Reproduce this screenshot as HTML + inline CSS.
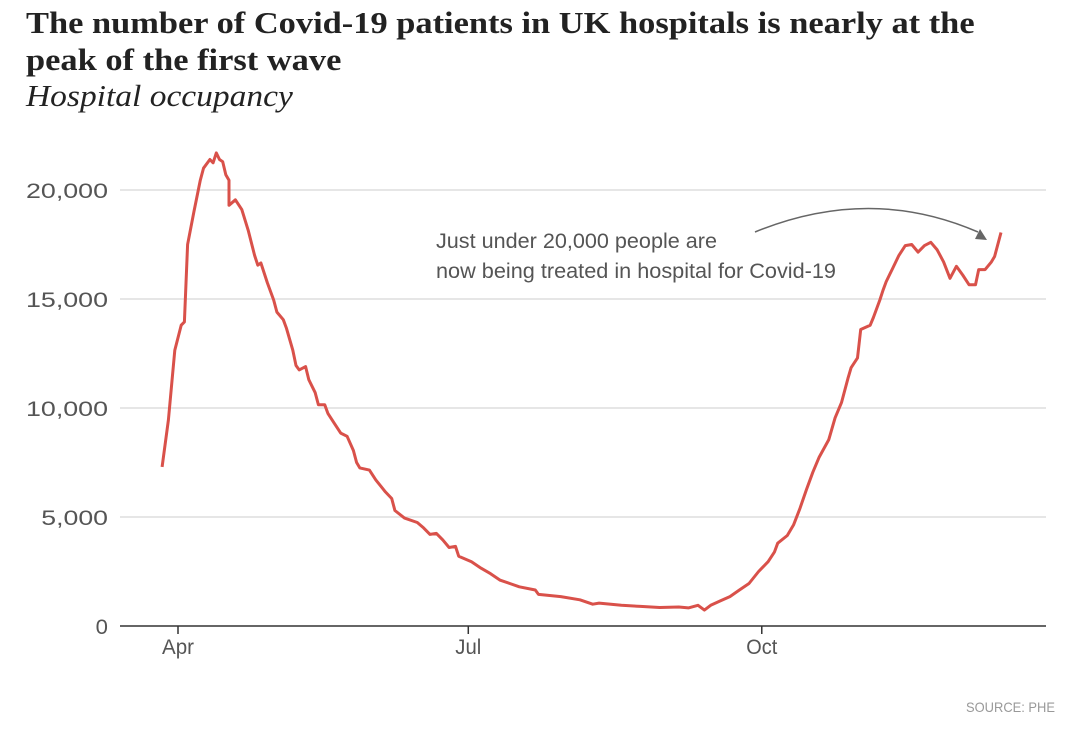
<!DOCTYPE html>
<html><head><meta charset="utf-8">
<style>
body{margin:0;background:#fff;width:1080px;height:739px;overflow:hidden;}
.t{position:absolute;left:26px;top:4px;font-family:"Liberation Serif",serif;font-weight:bold;font-size:31px;line-height:37px;color:#222;white-space:nowrap;transform:scaleX(1.11);transform-origin:0 0;}
.s{position:absolute;left:26px;top:78px;font-family:"Liberation Serif",serif;font-style:italic;font-size:31px;color:#222;white-space:nowrap;transform:scaleX(1.08);transform-origin:0 0;}
</style></head><body>
<div class="t">The number of Covid-19 patients in UK hospitals is nearly at the<br>peak of the first wave</div>
<div class="s">Hospital occupancy</div>
<svg id="c" width="1080" height="739" style="position:absolute;left:0;top:0"></svg>
<script>
const days=[-5,-3,-1,1,2,3,5,7,8,10,11,12,13,14,15,16,16,18,20,22,24,25,26,28,30,31,33,34,36,37,38,40,41,43,44,46,47,49,51,53,55,56,57,60,62,65,67,68,71,75,77,79,81,83,85,87,88,92,95,98,101,104,107,112,113,120,126,130,132,139,145,151,157,160,163,165,167,170,173,176,179,182,185,187,188,191,193,195,197,199,201,204,206,208,210,211,213,214,217,218,220,221,222,224,226,228,230,232,234,236,238,240,242,244,246,248,250,251,253,255,256,258];
const values=[7300,9450,12650,13800,13950,17500,19000,20450,21000,21400,21250,21700,21400,21300,20700,20450,19300,19550,19100,18150,17000,16550,16650,15750,14950,14400,14050,13650,12650,11950,11750,11900,11300,10700,10150,10150,9750,9300,8850,8700,8050,7500,7250,7150,6700,6150,5850,5300,4950,4750,4500,4200,4250,3950,3600,3650,3200,2950,2650,2400,2100,1950,1800,1650,1450,1350,1200,1000,1050,950,900,850,870,830,950,730,950,1150,1350,1650,1950,2500,2950,3400,3800,4150,4650,5400,6250,7050,7750,8550,9550,10250,11350,11850,12300,13600,13800,14150,14950,15400,15800,16400,17000,17450,17500,17150,17450,17600,17250,16700,15950,16500,16100,15650,15650,16350,16350,16700,16950,18050];
const yTicks=[0,5000,10000,15000,20000];
const yLabels=["0","5,000","10,000","15,000","20,000"];
const xTickDays=[0,91,183];
const xLabels=["Apr","Jul","Oct"];
const xLabelW=[32,26,31];
const NS="http://www.w3.org/2000/svg";
const svg=document.getElementById('c');
const X=d=>178+d*3.19;
const Y=v=>626-v*0.0218;
const F='Liberation Sans, sans-serif';
function mk(t,a){const e=document.createElementNS(NS,t);for(const k in a)e.setAttribute(k,a[k]);svg.appendChild(e);return e;}
yTicks.forEach((v,i)=>{
 if(v>0){const g=mk('line',{x1:120,x2:1046,y1:Y(v),y2:Y(v),stroke:'#ddd','stroke-width':1.5});
 
 }
 const s=yLabels[i];
 const w=s.replace(',','').length*15.3+(s.includes(',')?5.5:0)-(s==='0'?3:0);
 const t=mk('text',{x:108,y:Y(v)+8,'text-anchor':'end','font-family':F,'font-size':21,fill:'#555',textLength:w,lengthAdjust:'spacingAndGlyphs'});
 t.textContent=s;
 
 
});
const ax=mk('line',{x1:120,x2:1046,y1:626,y2:626,stroke:'#333','stroke-width':1.5});


xTickDays.forEach((d,i)=>{
 const tk=mk('line',{x1:X(d),x2:X(d),y1:626,y2:634,stroke:'#333','stroke-width':1.5});
 
 
 const t=mk('text',{x:X(d),y:654,'text-anchor':'middle','font-family':F,'font-size':21,fill:'#555',textLength:xLabelW[i],lengthAdjust:'spacingAndGlyphs'});
 t.textContent=xLabels[i];
 
 
});
const pts=days.map((d,i)=>X(d).toFixed(1)+','+Y(values[i]).toFixed(1)).join(' ');
const line=mk('polyline',{points:pts,fill:'none',stroke:'#d9514a','stroke-width':3,'stroke-linejoin':'round'});


const arc=mk('path',{d:'M755,232 Q870,185 978,232',fill:'none',stroke:'#666','stroke-width':1.5});


const head=mk('polygon',{points:'975,239 987,240 980,229',fill:'#666'});


[['Just under 20,000 people are',281],['now being treated in hospital for Covid-19',400]].forEach((s,i)=>{
 const t=mk('text',{x:436,y:248+i*30,'font-family':F,'font-size':21,fill:'#555',textLength:s[1],lengthAdjust:'spacingAndGlyphs'});
 t.textContent=s[0];
 
 
});
const src=mk('text',{x:1055,y:712,'text-anchor':'end','font-family':F,'font-size':14,fill:'#999',textLength:89,lengthAdjust:'spacingAndGlyphs'});
src.textContent='SOURCE: PHE';


</script>
</body></html>
